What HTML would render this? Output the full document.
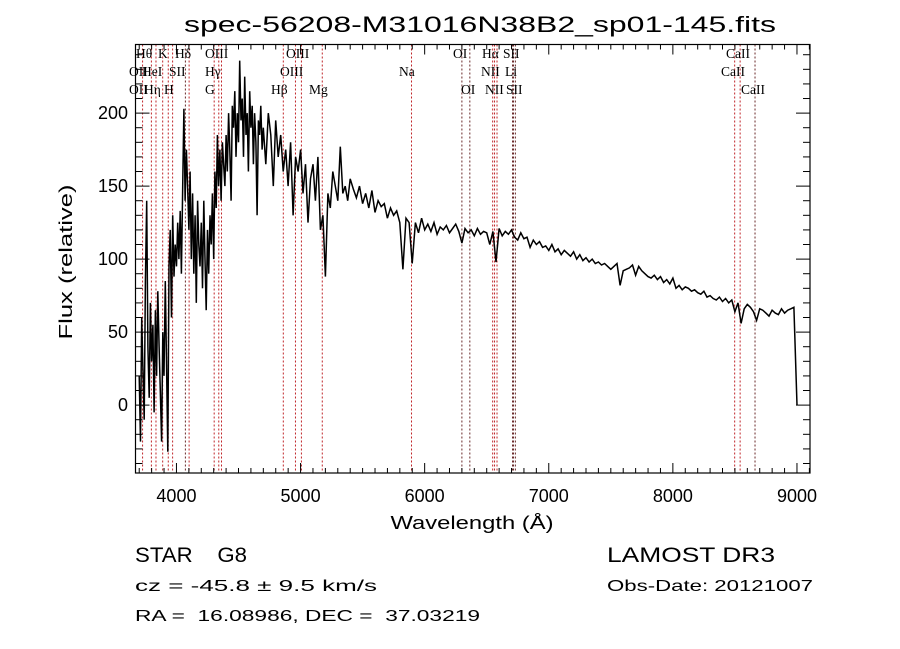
<!DOCTYPE html>
<html><head><meta charset="utf-8"><style>
html,body{margin:0;padding:0;background:#fff;}
svg{display:block;}
text{font-family:"Liberation Sans",sans-serif;fill:#000;white-space:pre;}
.lbl{font-family:"Liberation Serif",serif;font-size:13.5px;}
</style></head><body>
<svg id="chart" width="900" height="649" viewBox="0 0 900 649" xmlns="http://www.w3.org/2000/svg" xml:space="preserve">
<rect x="0" y="0" width="900" height="649" fill="#fff"/>
<text x="480" y="32" text-anchor="middle" font-size="22" textLength="592" lengthAdjust="spacingAndGlyphs">spec-56208-M31016N38B2_sp01-145.fits</text>
<g id="lines"></g>
<g id="labels"></g>
<g id="series"></g>
<g id="axes"></g>
<text x="472" y="529" text-anchor="middle" font-size="18" textLength="163" lengthAdjust="spacingAndGlyphs">Wavelength (Å)</text>
<text transform="translate(72,262) rotate(-90)" text-anchor="middle" font-size="18" textLength="155" lengthAdjust="spacingAndGlyphs">Flux (relative)</text>
<text x="135" y="562" font-size="21" textLength="112" lengthAdjust="spacingAndGlyphs">STAR    G8</text>
<text x="607" y="562" font-size="21" textLength="168" lengthAdjust="spacingAndGlyphs">LAMOST DR3</text>
<text x="135" y="591" font-size="16" textLength="242" lengthAdjust="spacingAndGlyphs">cz = -45.8 ± 9.5 km/s</text>
<text x="607" y="591" font-size="16" textLength="206" lengthAdjust="spacingAndGlyphs">Obs-Date: 20121007</text>
<text x="135" y="621" font-size="16" textLength="345" lengthAdjust="spacingAndGlyphs">RA =  16.08986, DEC =  37.03219</text>
</svg>
<script>
const fluxBlue = [20,-25,60,25,-10,85,140,40,5,70,
30,55,-5,65,20,78,40,10,-25,50,
20,85,30,-32,95,120,60,130,88,110,
95,125,100,133,90,150,203,140,175,150,
120,160,100,145,90,130,70,140,110,95,
125,80,140,100,65,120,90,130,110,145,
100,160,135,185,150,175,140,180,165,150,
185,160,200,175,140,205,190,215,170,200,
180,236,195,210,170,225,185,200,160,215,
190,205,165,200,180,130,195,185,205,175,
190];
const fluxMid = [165,200,185,150,195,170,185,160,175,150,
180,130,170,160,175,145,165,125,155,165,
140,170,120,130,88,145,135,160,150,140,
177,145,150,140,155];
const fluxRed = [148,142,150,138,145,135,147,132,140,136,
138,128,135,130,133,125,93,128,125,97,
125,118,128,120,124,119,125,117,122,120,
123,118,121,124,119,111,121,118,120,116,
121,117,119,118,110,119,98,121,116,119,
117,120,115,113,118,114,115,108,113,110,
112,108,109,106,110,105,107,103,106,104,
102,105,100,103,99,101,98,100,97,98,
96,97,95,93,95,97,82,92,93,94,
96,89,95,92,90,88,87,89,86,88,
84,86,83,87,80,82,79,81,80,78,
79,77,76,78,74,75,73,72,74,71,
73,70,72,64,70,56,66,69,67,64,
58,66,65,63,61,65,63,62,66,63,
65,66,67,0];
const lineWaves = [3727,3798,3835,3889,3934,3969,4072,4102,4304,4341,4363,4861,4959,5007,5175,5894,6300,6364,6548,6563,6583,6708,6716,6731,8498,8542,8662];
const lineNames = ["Hθ","K","Hδ","OIII","OIII","OII","HeI","SII","Hγ","OIII","Na","OII","Hη","H","G","Hβ","Mg","OI","Hα","SII","CaII","NII","Li","CaII","OI","NII","SII","CaII"];
const xTicks = [4000,5000,6000,7000,8000,9000];
const yTicks = [0,50,100,150,200];

const L=135.5,R=810,T=44.5,B=473;
const X0=3670, X1=9105, Y0=-46.5, Y1=247;
function sx(w){return L+(w-X0)/(X1-X0)*(R-L);}
function sy(f){return B-(f-Y0)/(Y1-Y0)*(B-T);}
const NS='http://www.w3.org/2000/svg';
function mk(tag,attrs,parent){const e=document.createElementNS(NS,tag);for(const k in attrs)e.setAttribute(k,attrs[k]);parent.appendChild(e);return e;}

const pts=[];
fluxBlue.forEach((f,i)=>pts.push([3700+10*i,f]));
fluxMid.forEach((f,i)=>pts.push([4720+20*i,f]));
fluxRed.forEach((f,i)=>pts.push([5425+25*i,f]));

const gl=document.getElementById('lines');
lineWaves.forEach(w=>{
  const dark=[4072,6300,6364,6708,6716,6731,8662].includes(w);
  const ln=mk('line',{x1:sx(w),x2:sx(w),y1:T,y2:B,stroke:dark?'#6a2a2a':'#c0262a','stroke-width':1,'stroke-dasharray':'2,2'},gl);
  
  
});

const labelPos=[[136,58],[158,58],[175,58],[205,58],[286,58],[129,76],[142,76],[169,76],[205,76],[280,76],[399,76],[129,94],[144,94],[164,94],[205,94],[271,94],[309,94],[453,58],[482,58],[503,58],[726,58],[481,76],[505,76],[721,76],[461,94],[485,94],[506,94],[741,94]];
const glb=document.getElementById('labels');
lineNames.forEach((n,i)=>{
  const t=mk('text',{x:labelPos[i][0],y:labelPos[i][1],class:'lbl'},glb);
  t.textContent=n;
  
  
});

const gs=document.getElementById('series');
const poly=mk('polyline',{points:pts.map(p=>sx(p[0]).toFixed(1)+','+sy(Math.max(Y0,Math.min(Y1,p[1]))).toFixed(1)).join(' '),fill:'none',stroke:'#000','stroke-width':1.5,'stroke-linejoin':'miter'},gs);



const ga=document.getElementById('axes');
const fr=mk('rect',{x:L,y:T,width:R-L,height:B-T,fill:'none',stroke:'#000','stroke-width':1.2},ga);


for(let w=3700;w<=9100;w+=100){
  const len=(w%1000===0)?10:5;
  mk('line',{x1:sx(w),x2:sx(w),y1:B,y2:B-len,stroke:'#000'},ga);
  mk('line',{x1:sx(w),x2:sx(w),y1:T,y2:T+len,stroke:'#000'},ga);
}
for(let f=-40;f<=240;f+=10){
  const len=(f%50===0)?14:7;
  mk('line',{x1:L,x2:L+len,y1:sy(f),y2:sy(f),stroke:'#000'},ga);
  mk('line',{x1:R,x2:R-len,y1:sy(f),y2:sy(f),stroke:'#000'},ga);
}
xTicks.forEach(w=>{
  const t=mk('text',{x:sx(w),y:502,'text-anchor':'middle','font-size':18},ga);
  t.textContent=w;
  
  
});
yTicks.forEach(f=>{
  const t=mk('text',{x:128,y:sy(f)+6,'text-anchor':'end','font-size':18},ga);
  t.textContent=f;
  
  
});
</script>
</body></html>
